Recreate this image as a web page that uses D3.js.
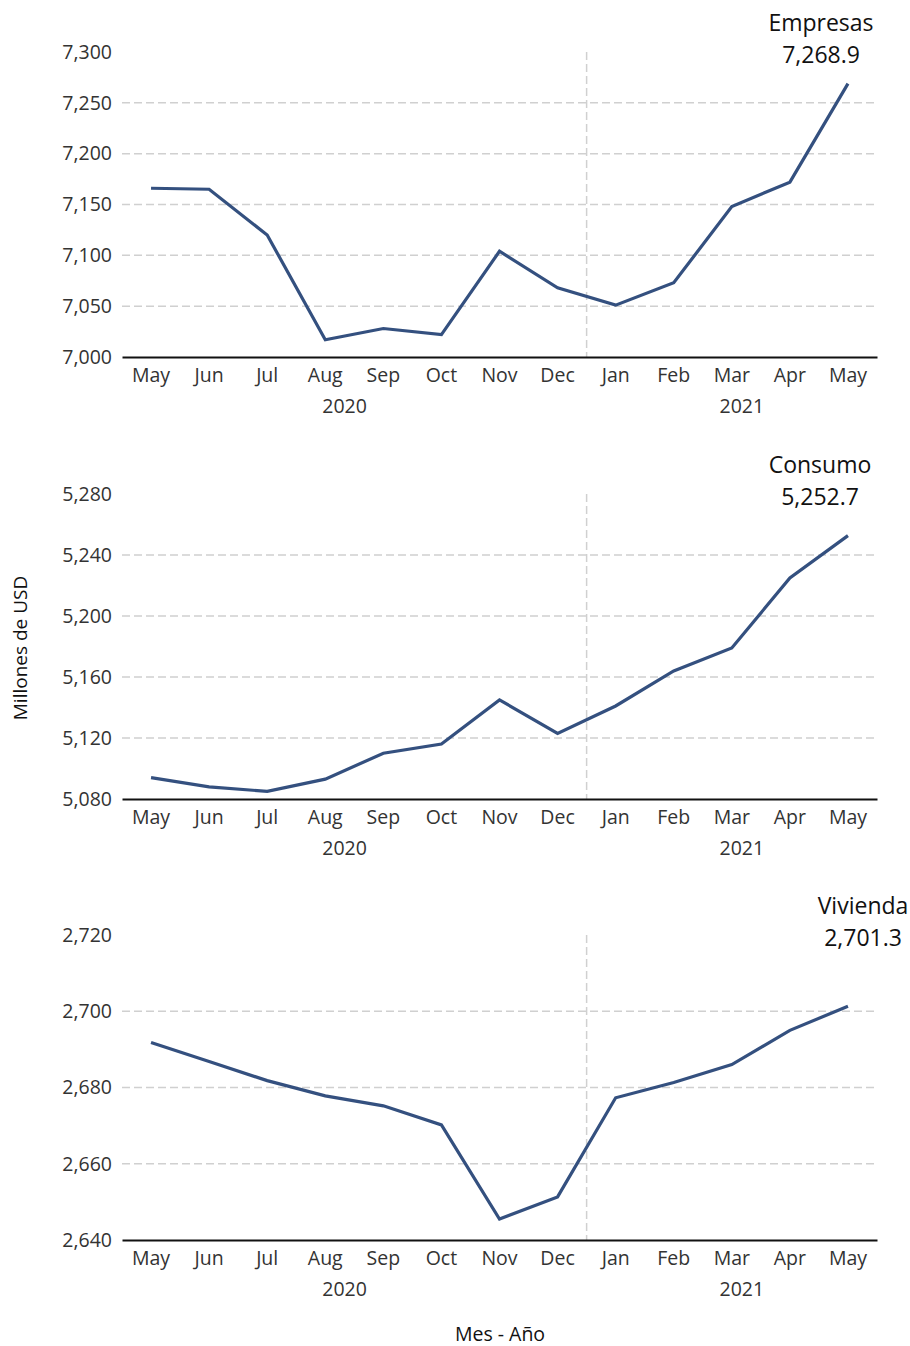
<!DOCTYPE html>
<html>
<head>
<meta charset="utf-8">
<script src="https://cdn.jsdelivr.net/npm/d3@7"></script>
<style>
  body { margin: 0; background: #fff; }
  text { font-family: "Open Sans", Lato, sans-serif; }
  .tick text { fill: #333; font-size: 19.5px; }
  .grid line { stroke: #d0d0d0; stroke-dasharray: 8,4; stroke-width: 1.5; }
  .title { font-size: 23px; fill: #111; }
</style>
</head>
<body>
<div id="chart"></div>
<script>

var width = 910;
var height = 1346;

var months = ["May","Jun","Jul","Aug","Sep","Oct","Nov","Dec","Jan","Feb","Mar","Apr","May"];
var years = ["2020","2021"];

var empresas = [7166, 7165, 7120, 7017, 7028, 7022, 7104, 7068, 7051, 7073, 7148, 7172, 7268.9];
var consumo = [5094, 5088, 5085, 5093, 5110, 5116, 5145, 5123, 5141, 5164, 5179, 5225, 5252.7];
var vivienda = [2691.8, 2686.8, 2681.8, 2677.8, 2675.2, 2670.2, 2645.5, 2651.3, 2677.3, 2681.3, 2686.0, 2695.0, 2701.3];

var empresasTicks = [7000, 7050, 7100, 7150, 7200, 7250, 7300];
var consumoTicks = [5080, 5120, 5160, 5200, 5240, 5280];
var viviendaTicks = [2640, 2660, 2680, 2700, 2720];

var panels = [
  {name: "Empresas", values: empresas, ticks: empresasTicks, top: 52, labelX: 821},
  {name: "Consumo", values: consumo, ticks: consumoTicks, top: 494, labelX: 820},
  {name: "Vivienda", values: vivienda, ticks: viviendaTicks, top: 935, labelX: 863}
];

var left = 122, right = 877, plotH = 305;

var svg = d3.select("#chart")
  .append("svg")
  .attr("width", width)
  .attr("height", height);

// one band per month, points at band centres
var xScale = d3.scaleBand()
  .domain(d3.range(months.length))
  .range([left, right])
  .padding(0);

function xc(i) { return xScale(i) + xScale.bandwidth() / 2; }

panels.forEach(function(p) {

  var g = svg.append("g")
    .attr("transform", "translate(0," + p.top + ")");

  var yScale = d3.scaleLinear()
    .domain([p.ticks[0], p.ticks[p.ticks.length - 1]])
    .range([plotH, 0]);

  // horizontal grid (no line at top tick)
  g.append("g")
    .attr("class", "grid")
    .selectAll("line")
    .data(p.ticks.slice(1, -1))
    .enter()
    .append("line")
    .attr("x1", left)
    .attr("x2", right)
    .attr("y1", function(d) { return yScale(d); })
    .attr("y2", function(d) { return yScale(d); });

  // year divider
  g.append("g")
    .attr("class", "grid")
    .append("line")
    .attr("x1", xScale(8))
    .attr("x2", xScale(8))
    .attr("y1", 0)
    .attr("y2", plotH);

  var yAxis = g.append("g")
    .attr("transform", "translate(" + left + ",0)")
    .call(d3.axisLeft(yScale).tickValues(p.ticks).tickFormat(d3.format(",")).tickSize(0).tickPadding(10));
  yAxis.select(".domain").remove();

  var xAxis = g.append("g")
    .attr("transform", "translate(0," + plotH + ")")
    .call(d3.axisBottom(xScale).tickFormat(function(i) { return months[i]; }).tickSize(0).tickPadding(11));
  xAxis.select(".domain")
    .attr("stroke", "#111")
    .attr("stroke-width", 1.8);

  g.append("text")
    .attr("x", xc(3) + xScale.bandwidth() / 3)
    .attr("y", plotH + 56)
    .style("text-anchor", "middle")
    .style("font-size", "19.5px")
    .style("fill", "#333")
    .text(years[0]);

  g.append("text")
    .attr("x", xc(10) + 10)
    .attr("y", plotH + 56)
    .style("text-anchor", "middle")
    .style("font-size", "19.5px")
    .style("fill", "#333")
    .text(years[1]);

  var line = d3.line()
    .x(function(d, i) { return xc(i); })
    .y(function(d) { return yScale(d); });

  g.append("path")
    .datum(p.values)
    .attr("fill", "none")
    .attr("stroke", "#34507f")
    .attr("stroke-width", 3.2)
    .attr("d", line);

  var last = p.values[p.values.length - 1];

  g.append("text")
    .attr("class", "title")
    .attr("x", p.labelX)
    .attr("y", -21)
    .style("text-anchor", "middle")
    .text(p.name);

  g.append("text")
    .attr("class", "title")
    .attr("x", p.labelX)
    .attr("y", 11)
    .style("text-anchor", "middle")
    .text(d3.format(",.1f")(last));
});

svg.append("text")
  .attr("transform", "rotate(-90)")
  .attr("x", -648)
  .attr("y", 27)
  .style("text-anchor", "middle")
  .style("font-size", "19px")
  .style("fill", "#111")
  .text("Millones de USD");

svg.append("text")
  .attr("x", 500)
  .attr("y", 1341)
  .style("text-anchor", "middle")
  .style("font-size", "19.5px")
  .style("fill", "#111")
  .text("Mes - Año");

</script>
</body>
</html>
